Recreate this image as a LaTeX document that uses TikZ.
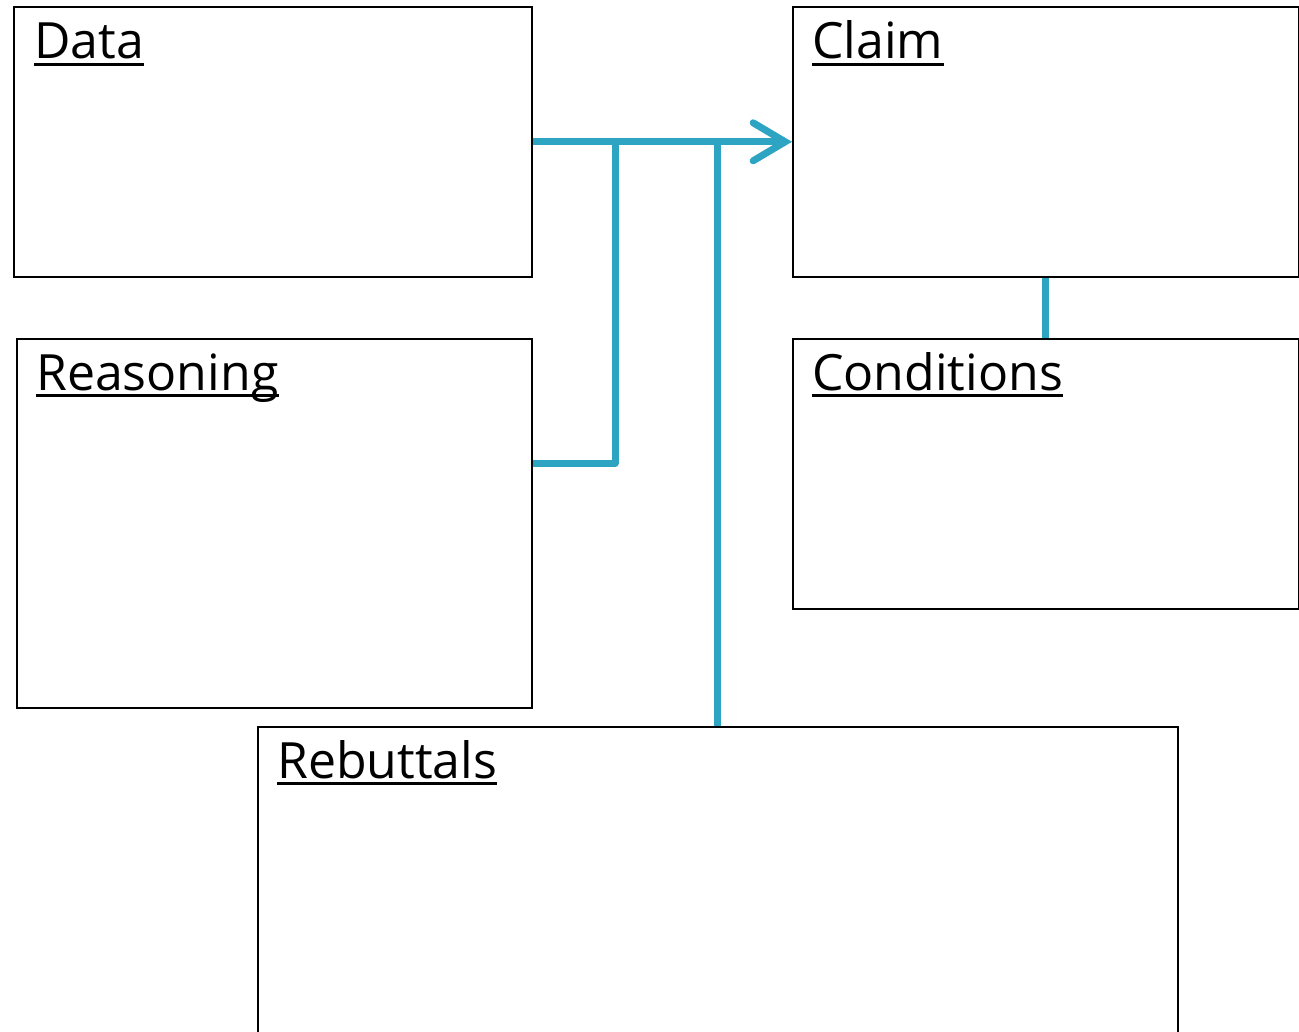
\documentclass[tikz,border=0pt]{standalone}
\usepackage{fontspec}
\setmainfont{Open Sans}
\usepackage{xcolor}
\usepackage{tikz}
\usetikzlibrary{positioning,arrows.meta,calc}
\definecolor{lnk}{RGB}{45,164,194}
\tikzset{
  panel/.style={draw=black,line width=1.6pt,inner sep=0pt,anchor=north west},
  heading/.style={anchor=base west,inner sep=0pt,font=\fontsize{50}{58}\selectfont},
  link/.style={draw=lnk,line width=7pt,line join=round},
}
\newcommand{\uline}[1]{\draw[line width=2.6pt] ([yshift=-5.5pt]#1.base west) -- ([yshift=-5.5pt]#1.base east);}

\begin{document}
\begin{tikzpicture}[x=1pt,y=-1pt]
\useasboundingbox (0,0) rectangle (1299,1032);
\clip (0,0) rectangle (1299,1032);
% ---- the five boxes (pixel coordinates, y down) ----
\node[panel,minimum width=518pt,minimum height=270pt] (data) at (13,6) {};
\node[panel,minimum width=506pt,minimum height=270pt] (claim) at (792,6) {};
\node[panel,minimum width=515pt,minimum height=369pt] (reasoning) at (16,338) {};
\node[panel,minimum width=506pt,minimum height=270pt] (conditions) at (792,338) {};
\node[panel,minimum width=920pt,minimum height=340pt] (rebuttals) at (257,726) {};
% ---- headings ----
\node[heading] (datat) at (34,59) {Data};
\node[heading] (claimt) at (812,59) {Claim};
\node[heading] (reasont) at (36,390) {Reasoning};
\node[heading] (condt) at (812,390) {Conditions};
\node[heading] (rebutt) at (277,778) {Rebuttals};
\uline{datat}
\uline{claimt}
\uline{reasont}
\uline{condt}
\uline{rebutt}
% ---- connectors ----
\coordinate (jn) at (615,141);
\draw[link,-{Straight Barb[length=32pt,width=38pt,line cap=round]}] (data.east) -- (claim.west);
\draw[link] ([yshift=60pt]reasoning.east) -| (jn);
\draw[link] (rebuttals.north) -- (rebuttals.north |- data.east);
\draw[link] (claim.south) -- (conditions.north);
\end{tikzpicture}
\end{document}
